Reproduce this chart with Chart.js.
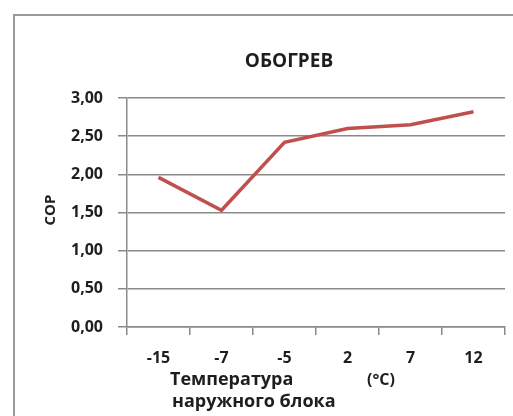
<!DOCTYPE html>
<html>
<head>
<meta charset="utf-8">
<script src="https://cdn.jsdelivr.net/npm/chart.js@4.4.1/dist/chart.umd.min.js"></script>
<style>
    html, body { margin: 0; padding: 0; background: #fff; }
    #wrap { position: relative; width: 513px; height: 416px; overflow: hidden; }
    #frame { position: absolute; left: 13px; top: 14px; width: 520px; height: 420px; border: 2px solid #9a9a9a; box-sizing: border-box; }
    canvas { position: absolute; left: 0; top: 0; }
</style>
</head>
<body>
<div id="wrap">
    <div id="frame"></div>
    <canvas id="copChart" width="513" height="416"></canvas>
</div>
<script>
// Chart data
const temperatures = ['-15', '-7', '-5', '2', '7', '12'];
const copValues = [1.96, 1.53, 2.42, 2.60, 2.65, 2.82];
const yTicks = { min: 0, max: 3, step: 0.5 };

const chartTitle = 'ОБОГРЕВ';
const yTitle = 'COP';
const xTitleLine1 = 'Температура';
const xTitleUnit = '(°C)';
const xTitleLine2 = 'наружного блока';

const fontFamily = '"Open Sans", "Noto Sans", sans-serif';
const textColor = '#1e1e1e';
const gridColor = '#8a8a8a';

// Titles drawn around the chart area
const titlesPlugin = {
    id: 'titles',
    afterDraw(chart) {
        const ctx = chart.ctx;
        const ca = chart.chartArea;
        ctx.save();
        ctx.fillStyle = textColor;
        ctx.textBaseline = 'alphabetic';

        ctx.font = 'bold 19px ' + fontFamily;
        ctx.textAlign = 'center';
        ctx.fillText(chartTitle, ca.left + 162, ca.top - 31);

        ctx.font = 'bold 15px ' + fontFamily;
        ctx.save();
        ctx.translate(ca.left - 72, ca.top + 112);
        ctx.rotate(-Math.PI / 2);
        ctx.fillText(yTitle, 0, 0);
        ctx.restore();

        ctx.font = 'bold 18px ' + fontFamily;
        ctx.textAlign = 'left';
        ctx.fillText(xTitleLine1, ca.left + 43, ca.bottom + 58);
        ctx.fillText(xTitleLine2, ca.left + 45, ca.bottom + 80);
        ctx.font = 'bold 16px ' + fontFamily;
        ctx.fillText(xTitleUnit, ca.left + 240, ca.bottom + 58);
        ctx.restore();
    }
};

const copCtx = document.getElementById('copChart');
new Chart(copCtx.getContext('2d'), {
    type: 'line',
    data: {
        labels: temperatures,
        datasets: [{
            label: 'COP',
            data: copValues,
            borderColor: '#c0504d',
            borderWidth: 3.5,
            pointRadius: 0,
            tension: 0,
            fill: false
        }]
    },
    options: {
        responsive: false,
        animation: false,
        layout: { padding: { top: 98, right: 8, left: 0, bottom: 0 } },
        plugins: {
            legend: { display: false },
            tooltip: { enabled: false }
        },
        scales: {
            x: {
                offset: true,
                afterFit: (scale) => { scale.height = 89; },
                grid: {
                    offset: true,
                    drawOnChartArea: false,
                    drawTicks: true,
                    tickLength: 8,
                    color: gridColor,
                    lineWidth: 1.5
                },
                border: { color: gridColor, width: 1.5 },
                ticks: {
                    color: textColor,
                    padding: 14,
                    maxRotation: 0,
                    font: { family: fontFamily, size: 16, weight: 'bold' }
                }
            },
            y: {
                min: yTicks.min,
                max: yTicks.max,
                afterFit: (scale) => { scale.width = 127; },
                grid: {
                    color: gridColor,
                    lineWidth: 1.5,
                    drawTicks: true,
                    tickLength: 9
                },
                border: { color: gridColor, width: 1.5 },
                ticks: {
                    stepSize: yTicks.step,
                    color: textColor,
                    padding: 15,
                    font: { family: fontFamily, size: 16, weight: 'bold' },
                    callback: (v) => Number(v).toFixed(2).replace('.', ',')
                }
            }
        }
    },
    plugins: [titlesPlugin]
});
</script>
</body>
</html>
